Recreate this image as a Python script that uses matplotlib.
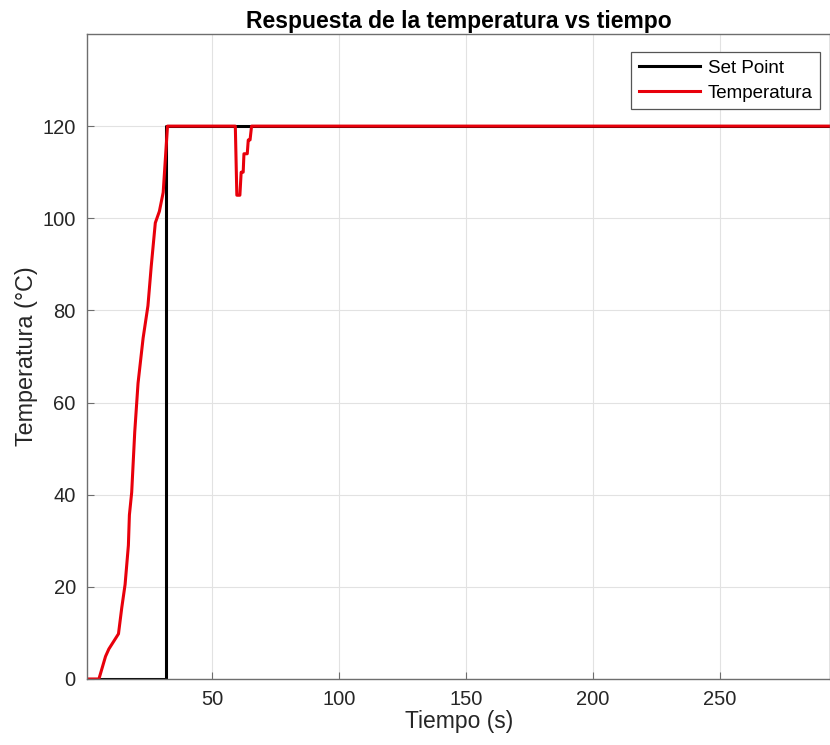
import matplotlib
matplotlib.use("Agg")
import matplotlib.pyplot as plt

plt.rcParams['font.family'] = ['Liberation Sans', 'DejaVu Sans']

# Set point series
sp_t = [1, 32, 32, 293]
sp_v = [0, 0, 120, 120]

# Temperature series
temp_t = [1, 5.5, 8.1, 9.4, 13.2, 14.5, 15.8, 17.1, 17.5, 18.4, 19.6, 20.9, 22.9, 24.8,
          26.1, 27.7, 29.3, 30.8, 32.5, 59.2, 59.8, 61.0, 61.5, 62.3, 62.6, 63.9, 64.3,
          65.0, 65.6, 293]
temp_v = [0, 0, 4.9, 6.5, 9.8, 15.5, 20.5, 29, 35.6, 40.5, 53.6, 64.2, 74, 81,
          89.6, 99, 101.5, 105.6, 120, 120, 105, 105, 110, 110, 114, 114, 117,
          117, 120, 120]

xticks = [50, 100, 150, 200, 250]
yticks = [0, 20, 40, 60, 80, 100, 120]

fig = plt.figure(figsize=(8.3, 7.45), dpi=100)
ax = fig.add_axes([0.1048, 0.0886, 0.8957, 0.8658])

ax.plot(sp_t, sp_v, color='black', lw=2.2, label='Set Point')
ax.plot(temp_t, temp_v, color='#e8000b', lw=2.2, label='Temperatura')

ax.set_xlim(0.8, 293.5)
ax.set_ylim(0, 140)
ax.set_xticks(xticks)
ax.set_yticks(yticks)
ax.grid(True, color='#e2e2e2', lw=0.8)
ax.set_axisbelow(True)
ax.tick_params(direction='in', labelsize=14.5, labelcolor='#262626', color='#6e6e6e',
               length=5, pad=8)
for s in ax.spines.values():
    s.set_color('#6e6e6e')
    s.set_linewidth(1.0)

ax.set_xlabel('Tiempo (s)', fontsize=16.5, color='#262626', labelpad=1)
ax.set_ylabel('Temperatura (°C)', fontsize=16.8, color='#262626', labelpad=3)
ax.set_title('Respuesta de la temperatura vs tiempo', fontsize=16.5, fontweight='bold', pad=4)

leg = ax.legend(loc='upper right', bbox_to_anchor=(0.9865, 0.972), borderaxespad=0,
                fontsize=13.5, fancybox=False, edgecolor='#555555', framealpha=1,
                handlelength=3.3, borderpad=0.4, labelspacing=0.42, handletextpad=0.4)
leg.get_frame().set_linewidth(0.9)

fig.savefig('out.png', dpi=100)
